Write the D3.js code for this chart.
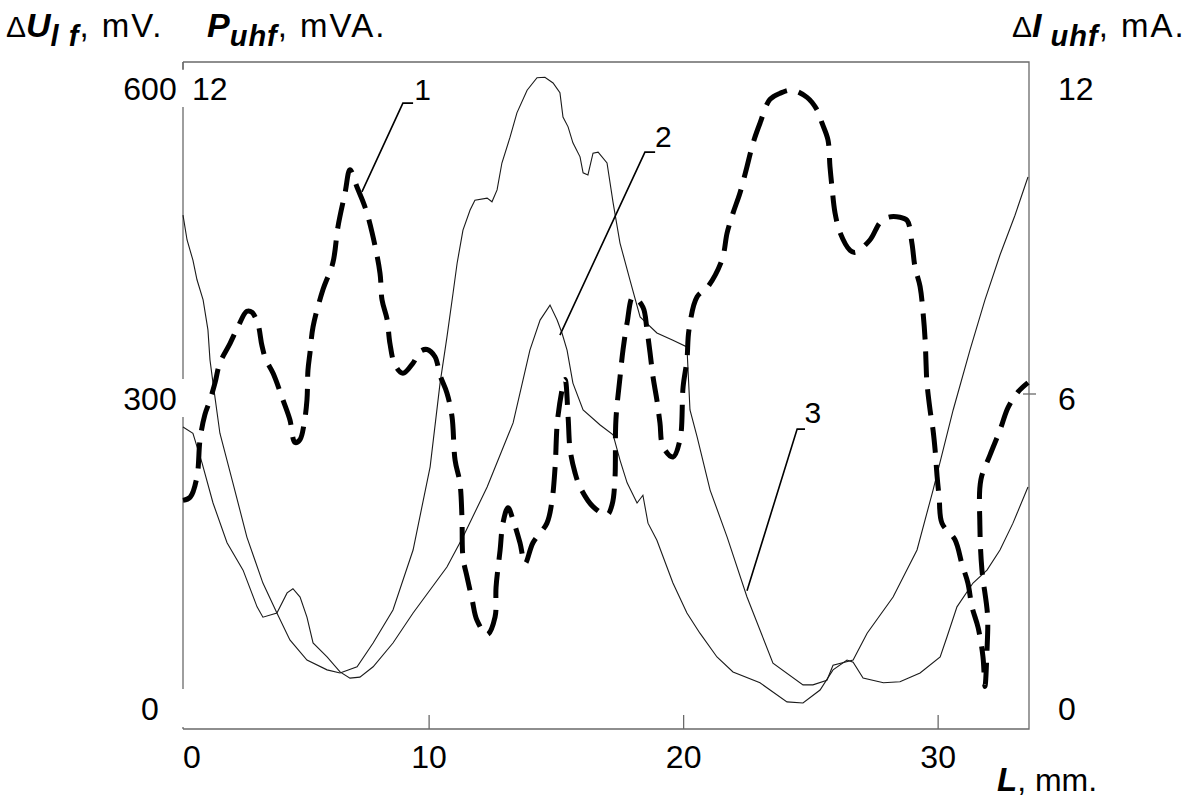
<!DOCTYPE html>
<html>
<head>
<meta charset="utf-8">
<script src="https://cdn.jsdelivr.net/npm/d3@7"></script>
<style>
  body { margin: 0; background: #fff; }
  svg { display: block; font-family: "Liberation Sans", Arial, sans-serif; }
  .frame { stroke: #6a6a6a; stroke-width: 1.3; fill: none; }
  .thin { stroke: #1a1a1a; stroke-width: 1.1; fill: none; }
  .dashed { stroke: #000; stroke-width: 5; fill: none; stroke-dasharray: 26 12; }
  .leader { stroke: #000; stroke-width: 1.6; fill: none; }
  .tick-label { font-size: 32px; fill: #000; }
  .curve-label { font-size: 30px; fill: #000; }
</style>
</head>
<body>
<svg width="1202" height="801"></svg>
<script>
// curve 1: dU_lf, mV (dashed) -- [L, mV]
var curve1 = [
  [0.33,198],[0.61,201],[0.88,221],[1.00,257],[1.19,281],[1.39,295],[1.59,312],[1.78,331],
  [2.18,350],[2.49,366],[2.84,381],[3.04,380],[3.28,368],[3.43,348],[3.59,334],[3.87,321],
  [4.26,295],[4.53,276],[4.73,254],[4.93,257],[5.08,271],[5.20,295],[5.24,324],[5.32,341],
  [5.44,366],[5.83,402],[6.22,428],[6.42,463],[6.70,496],[6.89,518],[7.17,501],[7.48,482],
  [7.76,457],[8.07,418],[8.15,392],[8.35,373],[8.46,350],[8.66,329],[8.97,321],[9.37,331],
  [9.64,342],[9.92,344],[10.23,337],[10.43,319],[10.70,302],[10.90,279],[11.02,237],[11.21,215],
  [11.29,182],[11.33,143],[11.49,124],[11.69,102],[11.88,82],[12.28,68],[12.59,85],[12.63,114],
  [12.79,150],[12.90,176],[13.10,191],[13.30,179],[13.57,157],[13.77,137],[14.08,157],[14.63,176],
  [14.83,198],[14.95,230],[15.06,279],[15.34,315],[15.46,279],[15.54,247],[15.73,225],[15.93,211],
  [16.44,192],[16.99,184],[17.19,194],[17.30,218],[17.34,276],[17.50,317],[17.62,344],[17.78,370],
  [18.01,395],[18.40,385],[18.56,363],[18.68,341],[18.80,317],[18.95,295],[19.07,273],[19.19,250],
  [19.58,240],[19.86,257],[19.98,308],[20.13,334],[20.21,363],[20.53,395],[20.96,405],[21.51,431],
  [21.71,457],[21.94,476],[22.22,496],[22.49,521],[22.73,544],[23.00,563],[23.39,586],[23.79,592],
  [24.26,595],[24.85,588],[25.24,576],[25.44,563],[25.67,547],[25.75,521],[25.83,501],[25.95,476],
  [26.15,457],[26.54,440],[26.74,438],[27.32,450],[27.72,467],[28.03,472],[28.50,472],[28.78,469],
  [28.97,447],[29.09,424],[29.29,405],[29.41,379],[29.49,353],[29.52,334],[29.56,312],[29.68,286],
  [29.80,266],[29.88,247],[29.96,221],[30.04,201],[30.15,176],[30.66,160],[30.94,136],[31.17,118],
  [31.33,95],[31.57,75],[31.76,47],[31.84,18],[31.92,53],[31.94,87],[31.72,131],[31.64,174],
  [31.68,218],[32.04,242],[32.43,266],[32.75,288],[33.14,303],[33.53,312]
];

// curve 2: P_uhf, mVA -- [L, mVA]
var curve2 = [
  [0.33,5.38],[0.72,5.26],[1.08,4.68],[1.51,3.91],[2.06,3.14],[2.69,2.61],[3.24,1.90],[3.47,1.70],
  [4.02,1.78],[4.42,2.17],[4.65,2.25],[4.93,2.09],[5.20,1.70],[5.44,1.20],[5.99,0.93],[6.50,0.64],
  [6.89,0.52],[7.28,0.54],[7.80,0.74],[8.58,1.20],[9.37,1.78],[10.70,2.67],[11.33,3.25],[12.28,4.22],
  [13.30,5.46],[13.96,6.87],[14.36,7.45],[14.75,7.74],[15.03,7.45],[15.22,7.20],[15.42,6.87],[15.65,6.23],
  [16.05,5.71],[16.72,5.42],[17.23,5.23],[17.50,4.74],[17.78,4.30],[18.17,3.91],[18.40,4.06],[18.60,3.52],
  [18.95,3.19],[19.58,2.36],[20.13,1.78],[20.64,1.39],[21.31,0.93],[21.94,0.64],[23.00,0.43],[24.06,0.06],
  [24.69,0.04],[25.36,0.29],[25.87,0.68],[26.42,0.87],[26.66,0.83],[27.05,0.52],[27.85,0.43],[28.50,0.45],
  [29.29,0.62],[30.08,0.93],[30.35,1.32],[30.74,1.90],[31.37,2.36],[31.92,2.61],[32.43,3.00],[32.94,3.52],
  [33.53,4.22]
];

// curve 3: dI_uhf, mA -- [L, mA]
var curve3 = [
  [0.33,9.48],[0.49,9.00],[0.72,8.61],[0.88,8.23],[1.12,7.84],[1.31,7.26],[1.39,6.68],[1.51,6.23],
  [1.78,5.26],[2.29,4.30],[2.84,3.25],[3.47,2.36],[4.02,1.78],[4.53,1.26],[5.20,0.87],[5.99,0.68],
  [6.50,0.62],[7.17,0.74],[7.80,1.20],[8.58,1.84],[9.37,3.00],[10.04,4.61],[10.43,6.23],[10.70,7.12],
  [10.94,7.97],[11.10,8.55],[11.33,9.19],[11.61,9.58],[11.80,9.77],[12.28,9.81],[12.47,9.74],[12.67,9.97],
  [12.86,10.49],[13.18,10.99],[13.45,11.46],[13.85,11.90],[14.24,12.14],[14.55,12.15],[14.87,12.04],[15.14,11.85],
  [15.26,11.38],[15.46,11.19],[15.65,10.88],[15.93,10.61],[16.05,10.30],[16.24,10.26],[16.44,10.68],[16.64,10.70],
  [16.99,10.49],[17.23,9.72],[17.50,8.94],[17.89,8.23],[18.29,7.51],[18.95,7.20],[19.58,7.06],[20.13,6.93],
  [20.25,5.71],[20.53,5.19],[21.04,4.16],[21.71,3.25],[22.49,2.09],[23.51,0.81],[24.69,0.39],[25.08,0.39],
  [25.63,0.48],[25.87,0.77],[26.66,0.87],[27.21,1.39],[28.23,2.09],[29.17,3.00],[29.80,4.16],[30.59,5.71],
  [31.25,6.87],[31.84,7.84],[32.43,8.71],[33.02,9.48],[33.53,10.22]
];

var xTicks = [0, 10, 20, 30];
var uTicks = [0, 300, 600];
var iTicks = [0, 6, 12];

// curve labels: text position and leader polyline, in L / mA units
var labels = [
  { text: "1", at: [9.74, 11.92], leader: [[9.37, 11.65], [8.97, 11.65], [7.36, 9.93]] },
  { text: "2", at: [19.20, 11.01], leader: [[18.88, 10.70], [18.48, 10.70], [15.14, 7.16]] },
  { text: "3", at: [25.08, 5.67], leader: [[24.77, 5.34], [24.46, 5.34], [22.49, 2.21]] }
];

var svg = d3.select("svg"),
    frame = { left: 183, right: 1029, top: 62, bottom: 729 };

var x = d3.scaleLinear().domain([0.33, 33.57]).range([frame.left, frame.right]),
    yU = d3.scaleLinear().domain([0, 600]).range([705, 85]),
    yP = d3.scaleLinear().domain([0, 12]).range([705, 85]),
    yI = d3.scaleLinear().domain([0, 12]).range([705, 85]);

svg.append("rect").attr("width", 1202).attr("height", 801).attr("fill", "#fff");

// frame: top, right, bottom lines
svg.append("path")
    .attr("class", "frame")
    .attr("d", "M" + frame.left + "," + frame.top + "H" + frame.right + "V" + frame.bottom + "H" + frame.left);

// left axis line is broken where the tick labels sit
var gapHalf = 19;
var leftStops = [frame.top];
uTicks.slice().reverse().forEach(function(v) {
    var c = yU(v) + 3;
    leftStops.push(Math.max(frame.top, c - gapHalf), Math.min(frame.bottom, c + gapHalf));
});
leftStops.push(frame.bottom);
for (var i = 0; i < leftStops.length; i += 2) {
    if (leftStops[i + 1] > leftStops[i]) {
        svg.append("line").attr("class", "frame")
            .attr("x1", frame.left).attr("x2", frame.left)
            .attr("y1", leftStops[i]).attr("y2", leftStops[i + 1]);
    }
}
// small corner piece at the top-left
svg.append("line").attr("class", "frame")
    .attr("x1", frame.left).attr("x2", frame.left)
    .attr("y1", frame.top).attr("y2", frame.top + 8);

// bottom ticks, pointing up
svg.selectAll(".xtick")
    .data(xTicks.filter(function(d) { return d > 0; }))
    .enter().append("line")
    .attr("class", "frame")
    .attr("x1", function(d) { return x(d); })
    .attr("x2", function(d) { return x(d); })
    .attr("y1", frame.bottom)
    .attr("y2", frame.bottom - 14);

// the "6" tick crossing the right axis
svg.append("line").attr("class", "frame")
    .attr("x1", frame.right - 6).attr("x2", frame.right + 7)
    .attr("y1", yI(6) - 1).attr("y2", yI(6) - 1);

svg.selectAll(".xlabel")
    .data(xTicks)
    .enter().append("text")
    .attr("class", "tick-label")
    .attr("text-anchor", "middle")
    .attr("x", function(d) { return Math.max(x(d), frame.left + 9); })
    .attr("y", 768)
    .text(function(d) { return d; });

svg.selectAll(".ulabel")
    .data(uTicks)
    .enter().append("text")
    .attr("class", "tick-label")
    .attr("text-anchor", "middle")
    .attr("x", 150)
    .attr("y", function(d) { return yU(d) + 14.5; })
    .text(function(d) { return d; });

svg.append("text")
    .attr("class", "tick-label")
    .attr("x", 192)
    .attr("y", yP(12) + 14.5)
    .text("12");

svg.selectAll(".ilabel")
    .data(iTicks)
    .enter().append("text")
    .attr("class", "tick-label")
    .attr("x", 1058)
    .attr("y", function(d) { return yI(d) + 14.5; })
    .text(function(d) { return d; });

// curves
var line2 = d3.line().x(function(d) { return x(d[0]); }).y(function(d) { return yP(d[1]); });
var line3 = d3.line().x(function(d) { return x(d[0]); }).y(function(d) { return yI(d[1]); });
var line1 = d3.line().curve(d3.curveCatmullRom).x(function(d) { return x(d[0]); }).y(function(d) { return yU(d[1]); });

svg.append("path").attr("class", "thin").attr("d", line2(curve2));
svg.append("path").attr("class", "thin").attr("d", line3(curve3));
svg.append("path").attr("class", "dashed").attr("d", line1(curve1));

// curve numbers with leaders
var leaderLine = d3.line().x(function(d) { return x(d[0]); }).y(function(d) { return yI(d[1]); });
labels.forEach(function(l) {
    svg.append("path").attr("class", "leader").attr("d", leaderLine(l.leader));
    svg.append("text")
        .attr("class", "curve-label")
        .attr("text-anchor", "middle")
        .attr("x", x(l.at[0]))
        .attr("y", yI(l.at[1]) + 11)
        .text(l.text);
});

// axis titles
function title(xPos, sym, sub, unit) {
    var t = svg.append("text").attr("x", xPos).attr("y", 37).attr("font-size", 33);
    if (sym.delta) t.append("tspan").attr("font-size", 30).text("\u0394");
    t.append("tspan").attr("font-weight", "bold").attr("font-style", "italic").attr("font-size", 34).text(sym.letter);
    t.append("tspan").attr("font-weight", "bold").attr("font-style", "italic").attr("font-size", 29)
        .attr("letter-spacing", 1).attr("dy", 9).text(sub);
    t.append("tspan").attr("dy", -9).attr("letter-spacing", 2).text(unit);
}
title(6, { delta: true, letter: "U" }, "l f", ", mV.");
title(207, { delta: false, letter: "P" }, "uhf", ", mVA.");
title(1012, { delta: true, letter: "I" }, " uhf", ", mA.");

var lt = svg.append("text").attr("x", 997).attr("y", 791).attr("font-size", 32);
lt.append("tspan").attr("font-weight", "bold").attr("font-style", "italic").attr("font-size", 33).text("L");
lt.append("tspan").text(", mm.");
</script>
</body>
</html>
